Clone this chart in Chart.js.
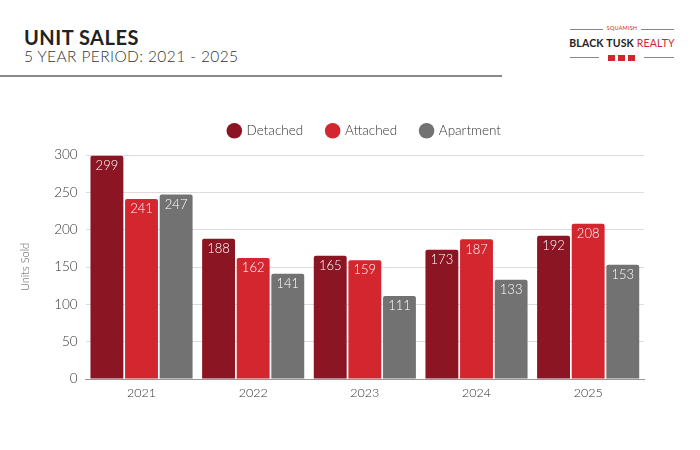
<!DOCTYPE html>
<html>
<head>
<meta charset="utf-8">
<script src="https://cdn.jsdelivr.net/npm/chart.js@4.4.1/dist/chart.umd.min.js"></script>
<style>
    html, body { margin: 0; padding: 0; background: #fff; }
    body { width: 700px; height: 450px; position: relative; overflow: hidden; font-family: Lato, "Noto Sans", sans-serif; }
    .title { position: absolute; left: 24px; top: 25px; font-size: 20px; font-weight: 700; color: #222; letter-spacing: 0.5px; }
    .subtitle { position: absolute; left: 24px; top: 47px; font-size: 15.5px; font-weight: 300; color: #333; letter-spacing: 0.4px; }
    .rule { position: absolute; left: 0; top: 75px; width: 502px; height: 2px; background: #8a8a8a; }
    .logo div { position: absolute; }
    .logo .line { height: 1px; background: #888; }
    .logo .small { left: 604px; top: 25px; width: 36px; text-align: center; font-size: 5.5px; color: #d2262e; letter-spacing: 0.2px; }
    .logo .name { left: 562px; top: 37px; width: 120px; text-align: center; font-size: 10.5px; font-weight: 700; color: #222; letter-spacing: 0.2px; white-space: nowrap; }
    .logo .name span { color: #d2262e; font-weight: 400; }
    .logo .sq { top: 55px; width: 7px; height: 6px; background: #d2262e; }
</style>
</head>
<body>
<div class="title">UNIT SALES</div>
<div class="subtitle">5 YEAR PERIOD: 2021 - 2025</div>
<div class="rule"></div>
<div class="logo">
    <div class="line" style="left:570px;top:29px;width:33px"></div>
    <div class="small">SQUAMISH</div>
    <div class="line" style="left:641px;top:29px;width:33px"></div>
    <div class="name">BLACK TUSK <span>REALTY</span></div>
    <div class="line" style="left:570px;top:57px;width:29px"></div>
    <div class="sq" style="left:608px"></div>
    <div class="sq" style="left:618px"></div>
    <div class="sq" style="left:628px"></div>
    <div class="line" style="left:644px;top:57px;width:30px"></div>
</div>
<div style="position:absolute;left:0;top:100px;width:700px;height:315px"><canvas id="chart"></canvas></div>
<script>
    var years = ['2021', '2022', '2023', '2024', '2025'];
    var detached = [299, 188, 165, 173, 192];
    var attached = [241, 162, 159, 187, 208];
    var apartment = [247, 141, 111, 133, 153];
    var yTicks = [0, 50, 100, 150, 200, 250, 300];

    var FONT = 'Lato, "Noto Sans", sans-serif';

    // white value labels just inside the top of each bar
    var barLabels = {
        id: 'barLabels',
        afterDatasetsDraw: function (chart) {
            var ctx = chart.ctx;
            ctx.save();
            ctx.fillStyle = '#fff';
            ctx.font = '300 13px ' + FONT;
            ctx.textAlign = 'center';
            ctx.textBaseline = 'middle';
            chart.data.datasets.forEach(function (ds, i) {
                chart.getDatasetMeta(i).data.forEach(function (bar, j) {
                    ctx.fillText(ds.data[j], bar.x, bar.y + 10);
                });
            });
            ctx.restore();
        }
    };

    // fixed legend height, and legend centred over the plot instead of the canvas
    var legendPlace = {
        id: 'legendPlace',
        beforeInit: function (chart) {
            var fit = chart.legend.fit;
            chart.legend.fit = function () {
                fit.call(this);
                this.height = 55;
            };
        },
        afterLayout: function (chart) {
            chart.legend.left = chart.chartArea.left;
            chart.legend.right = chart.chartArea.right;
        }
    };

    function series(label, data, color) {
        return {
            label: label,
            data: data,
            backgroundColor: color,
            borderColor: color,
            borderWidth: 0,
            borderRadius: { topLeft: 2, topRight: 2 },
            borderSkipped: 'bottom',
            categoryPercentage: 0.93,
            barPercentage: 0.95
        };
    }

    new Chart(document.getElementById('chart'), {
        type: 'bar',
        data: {
            labels: years,
            datasets: [
                series('Detached', detached, '#8c1524'),
                series('Attached', attached, '#d3262f'),
                series('Apartment', apartment, '#727272')
            ]
        },
        plugins: [barLabels, legendPlace],
        options: {
            responsive: true,
            maintainAspectRatio: false,
            animation: false,
            layout: { padding: { left: 15, right: 56, top: 0, bottom: 9 } },
            plugins: {
                legend: {
                    position: 'top',
                    labels: {
                        usePointStyle: true,
                        pointStyle: 'circle',
                        boxWidth: 11,
                        boxHeight: 11,
                        padding: 24,
                        color: '#333',
                        font: { family: FONT, size: 13.5, weight: '300' }
                    }
                },
                tooltip: { enabled: false }
            },
            scales: {
                x: {
                    grid: { display: false, drawTicks: false },
                    border: { color: '#999', width: 1 },
                    ticks: { color: '#333', padding: 6, font: { family: FONT, size: 12.5, weight: '300' } }
                },
                y: {
                    min: 0,
                    max: 300,
                    afterBuildTicks: function (axis) {
                        axis.ticks = yTicks.map(function (v) { return { value: v }; });
                    },
                    grid: { color: '#dcdcdc', drawTicks: false },
                    border: { display: false },
                    ticks: { color: '#333', padding: 8, font: { family: FONT, size: 13.5, weight: '300' } },
                    title: { display: true, text: 'Units Sold', color: '#555', padding: { bottom: 14 }, font: { family: FONT, size: 11, weight: '300' } }
                }
            }
        }
    });
</script>
</body>
</html>
